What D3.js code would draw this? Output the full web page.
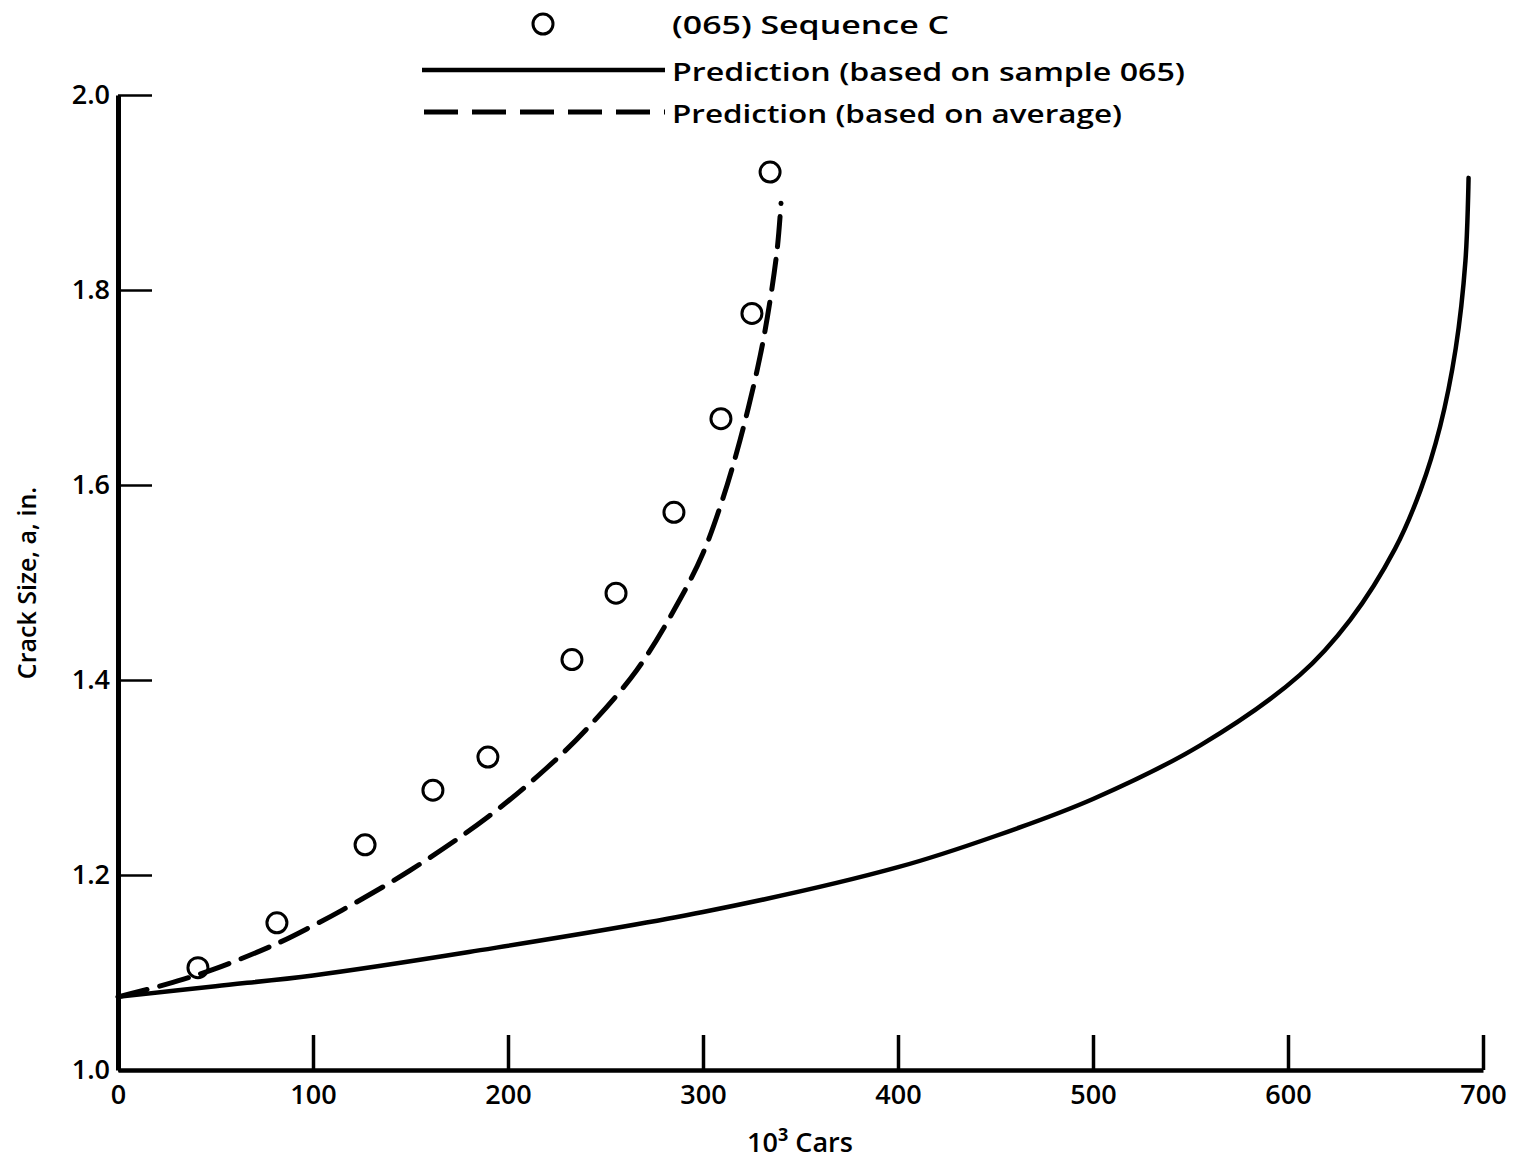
<!DOCTYPE html>
<html><head><meta charset="utf-8">
<script src="https://cdn.jsdelivr.net/npm/d3@7"></script>
<style>body{margin:0;background:#fff}</style>
</head><body><svg id="c" width="1517" height="1161"></svg>
<script>
const xTicks = [0,100,200,300,400,500,600,700];
const yTicks = [1.0,1.2,1.4,1.6,1.8,2.0];
const obsX = [41,81.5,126.7,161.5,189.7,232.8,255.4,285.1,309.2,325.1,334.4];
const obsY = [1.105,1.151,1.231,1.287,1.321,1.421,1.489,1.572,1.668,1.776,1.921];
const solidX = [0,50,100,180,300,400,450,500,555,606,632,655,668,678,686,691,692.6];
const solidY = [1.075,1.086,1.097,1.121,1.162,1.208,1.240,1.278,1.333,1.405,1.462,1.535,1.595,1.660,1.740,1.83,1.915];
const dashX = [0,25,50,83,100,115,150,190,220,240,266,288,300,310,319,328,333,338,340];
const dashY = [1.075,1.088,1.104,1.131,1.148,1.164,1.205,1.26,1.31,1.349,1.41,1.482,1.53,1.585,1.646,1.72,1.772,1.841,1.889];
const legendLabels = ["(065) Sequence C","Prediction (based on sample 065)","Prediction (based on average)"];
const xTitle = "Cars", yTitle = "Crack Size, a, in.";

const svg = d3.select("#c");
const font = "'Open Sans', sans-serif";
const x = d3.scaleLinear().domain([0,700]).range([118,1483]);
const y = d3.scaleLinear().domain([1,2]).range([1070,95]);

// axes
const gx = svg.append("g").attr("transform","translate(0,1070)")
  .call(d3.axisBottom(x).tickValues(xTicks).tickSizeInner(-35).tickSizeOuter(0).tickPadding(12).tickFormat(d=>String(d)));
gx.select(".domain").attr("stroke","#000").attr("stroke-width",4.5);
gx.selectAll(".tick line").attr("stroke","#000").attr("stroke-width",3.5);
gx.selectAll(".tick text").attr("font-family",font).attr("font-size",27).attr("font-weight",600).attr("fill","#000").attr("dy","0.8em");

const gy = svg.append("g").attr("transform","translate(118,0)")
  .call(d3.axisLeft(y).tickValues(yTicks).tickSizeInner(-34).tickSizeOuter(0).tickPadding(8).tickFormat(d3.format(".1f")));
gy.select(".domain").attr("stroke","#000").attr("stroke-width",5);
gy.selectAll(".tick line").attr("stroke","#000").attr("stroke-width",2.5);
gy.selectAll(".tick text").attr("font-family",font).attr("font-size",27).attr("font-weight",600).attr("fill","#000");

// titles
const xt = svg.append("text").attr("x",800).attr("y",1152).attr("text-anchor","middle")
  .attr("font-family",font).attr("font-size",27).attr("font-weight",600).attr("fill","#000");
xt.append("tspan").text("10");
xt.append("tspan").attr("dy",-11).attr("font-size",18).attr("font-weight",700).text("3");
xt.append("tspan").attr("dy",11).text(" " + xTitle);
svg.append("text").attr("transform","translate(36,583) rotate(-90)").attr("text-anchor","middle")
  .attr("font-family",font).attr("font-size",25).attr("font-weight",600).attr("fill","#000").text(yTitle);

// lines
const line = d3.line().x(d=>x(d[0])).y(d=>y(d[1])).curve(d3.curveCatmullRom.alpha(0.5));
svg.append("path").datum(solidX.map((v,i)=>[v,solidY[i]])).attr("d",line)
  .attr("fill","none").attr("stroke","#000").attr("stroke-width",4.5).attr("stroke-linecap","round");
svg.append("path").datum(dashX.map((v,i)=>[v,dashY[i]])).attr("d",line)
  .attr("fill","none").attr("stroke","#000").attr("stroke-width",5).attr("stroke-dasharray","30,13").attr("stroke-linecap","round");

// points
svg.append("g").selectAll("circle").data(obsX.map((v,i)=>[v,obsY[i]])).join("circle")
  .attr("cx",d=>x(d[0])).attr("cy",d=>y(d[1])).attr("r",10)
  .attr("fill","none").attr("stroke","#000").attr("stroke-width",3);

// legend
svg.append("circle").attr("cx",543).attr("cy",24).attr("r",10).attr("fill","none").attr("stroke","#000").attr("stroke-width",3);
svg.append("line").attr("x1",422).attr("x2",665).attr("y1",70).attr("y2",70).attr("stroke","#000").attr("stroke-width",4.5);
svg.append("line").attr("x1",424).attr("x2",665).attr("y1",112).attr("y2",112).attr("stroke","#000").attr("stroke-width",5).attr("stroke-dasharray","34,14");
const lw = [277,513,450];
const ly = [34,81,123];
legendLabels.forEach((t,i)=>{
  svg.append("text").attr("x",672).attr("y",ly[i]).attr("font-family",font).attr("font-size",26).attr("font-weight",600).attr("fill","#000")
    .attr("textLength",lw[i]).attr("lengthAdjust","spacingAndGlyphs").text(t);
});
</script></body></html>
